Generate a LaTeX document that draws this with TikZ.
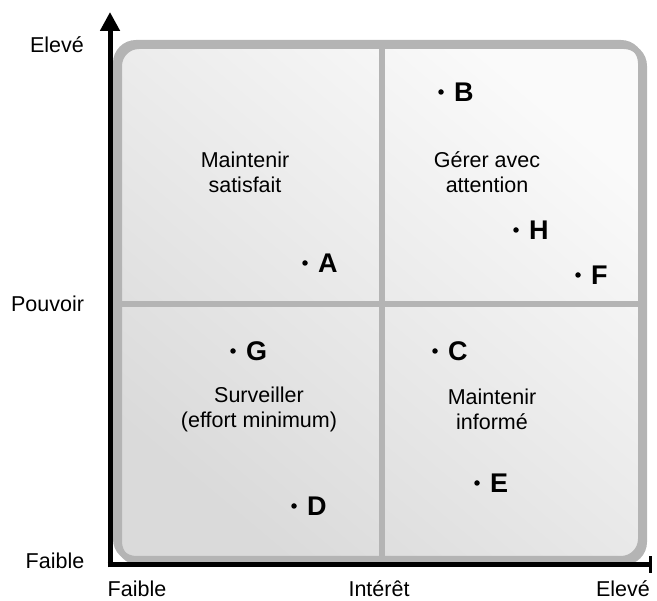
\documentclass[tikz,border=0pt]{standalone}
\usepackage{fontspec}
\setmainfont{Liberation Sans}
\usepackage{xcolor}
\usetikzlibrary{arrows.meta,positioning}
\definecolor{framegray}{HTML}{B4B4B4}
\definecolor{shadelight}{HTML}{FAFAFA}
\definecolor{shadedark}{HTML}{DADADA}

\begin{document}
\begin{tikzpicture}[x=1pt,y=-1pt,
  lbl/.style={font=\fontsize{21.5}{25}\selectfont,inner sep=0pt},
  quad/.style={lbl,align=center},
  dot/.style={circle,fill=black,inner sep=0pt,minimum size=5.5pt},
  tag/.style={font=\fontsize{27}{29}\selectfont\bfseries,inner sep=0pt},
  axis/.style={line width=5pt,black},
  divider/.style={framegray,line width=6pt}]
\useasboundingbox (0,0) rectangle (657,601);
% quadrant frame
\node[draw=framegray,line width=6pt,rounded corners=20pt,inner sep=0pt,
  minimum width=525pt,minimum height=516pt,anchor=north west,
  top color=shadelight,bottom color=shadedark,shading angle=-40] (grid) at (116,43) {};
\draw[divider] (grid.north) -- (grid.south);
\draw[divider] (grid.west) -- (grid.east);
\draw[framegray,line width=6pt,rounded corners=20pt] (116,43) rectangle (641,559);
% axes
\coordinate (origin) at (110,567.5);
\coordinate (ytop) at (110,12);
\coordinate (xstart) at (107.5,565);
\coordinate (xend) at (652,565);
\draw[axis,-{Triangle[width=19pt,length=19pt]}] (origin) -- (ytop);
\draw[axis,-{Bar[width=17pt,line width=3pt]}] (xstart) -- (xend);
% axis labels
\node[lbl] (yhigh) at (57,45) {Elevé};
\node[lbl] (ytitle) at (47.5,304) {Pouvoir};
\node[lbl] (ylow) at (55,561) {Faible};
\node[lbl] (xlow) at (137,589) {Faible};
\node[lbl] (xtitle) at (379,589) {Intérêt};
\node[lbl] (xhigh) at (623,589) {Elevé};
% quadrant labels
\node[quad] (satisfy) at (245,172) {Maintenir\\satisfait};
\node[quad] (manage) at (487,172) {Gérer avec\\attention};
\node[quad] (monitor) at (259,409) {Surveiller\\(effort minimum)};
\node[quad] (inform) at (492,409) {Maintenir\\informé};
% stakeholders
\foreach \px/\py/\name in {305/263/A,441/92/B,435/351/C,294/506/D,
  477/483/E,578/275/F,233/351/G,516/230/H}{
  \node[dot] (dot\name) at (\px,\py) {};
  \node[tag,right=10pt of dot\name] (tag\name) {\name};
}
\end{tikzpicture}
\end{document}
